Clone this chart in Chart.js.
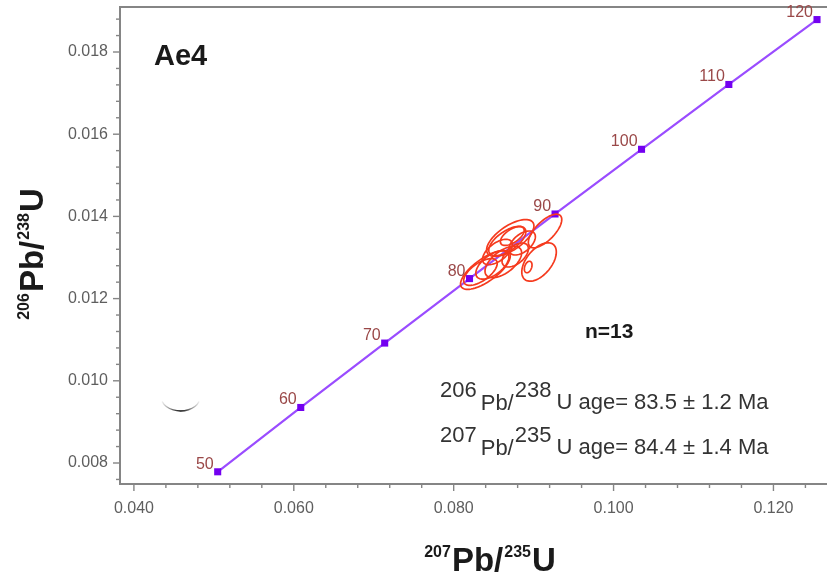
<!DOCTYPE html>
<html>
<head>
<meta charset="utf-8">
<script src="https://cdn.jsdelivr.net/npm/chart.js@4.4.0/dist/chart.umd.min.js"></script>
<style>
html,body{margin:0;padding:0;background:#fff;overflow:hidden;}
#wrap{width:827px;height:580px;overflow:hidden;}
</style>
</head>
<body>
<div id="wrap"><canvas id="conc" width="840" height="580"></canvas></div>
<script>
// concordia reference points (Ma) and their ratios
var ages    = [50, 60, 70, 80, 90, 100, 110, 120];
var conc207 = [0.05048, 0.06087, 0.07137, 0.08198, 0.09268, 0.10350, 0.11442, 0.12545];
var conc206 = [0.007786, 0.009351, 0.010918, 0.012487, 0.014059, 0.015633, 0.017210, 0.018789];

// zircon spots: ratios, 2s half-widths and error correlation
var spot207 = [0.09143, 0.09068, 0.08932, 0.08708, 0.08671, 0.08733, 0.08857, 0.08621, 0.08397, 0.08335, 0.08484, 0.08547, 0.08770];
var spot206 = [0.013645, 0.012891, 0.012769, 0.013475, 0.013402, 0.013523, 0.013353, 0.012891, 0.012696, 0.012647, 0.012818, 0.013134, 0.013061];
var err207  = [0.00209, 0.00216, 0.00048, 0.00296, 0.00232, 0.00149, 0.00165, 0.00229, 0.00311, 0.00210, 0.00207, 0.00186, 0.00165];
var err206  = [0.000409, 0.000467, 0.000140, 0.000448, 0.000355, 0.000229, 0.000292, 0.000382, 0.000472, 0.000326, 0.000345, 0.000309, 0.000292];
var rho     = [0.68, 0.52, 0.34, 0.65, 0.63, 0.60, 0.52, 0.58, 0.72, 0.64, 0.58, 0.58, 0.52];

var xTicks = [0.040, 0.060, 0.080, 0.100, 0.120];
var yTicks = [0.008, 0.010, 0.012, 0.014, 0.016, 0.018];

var sampleName = 'Ae4';
var nLabel = 'n=13';
var ageLines = [
  ['206', '238', 'U age= 83.5 \u00b1 1.2 Ma'],
  ['207', '235', 'U age= 84.4 \u00b1 1.4 Ma']
];

var FONT = '"Liberation Sans", Arial, sans-serif';
var axisGray = '#858585';

function runs(ctx, x, y, parts) {
  parts.forEach(function(p){
    ctx.font = p[1];
    ctx.fillText(p[0], x, y + (p[2] || 0));
    x += ctx.measureText(p[0]).width + (p[3] || 0);
  });
}
function runsWidth(ctx, parts) {
  var w = 0;
  parts.forEach(function(p){ ctx.font = p[1]; w += ctx.measureText(p[0]).width + (p[3] || 0); });
  return w;
}

var ellipses = {
  id: 'ellipses',
  afterDatasetsDraw: function(chart){
    var ctx = chart.ctx, xs = chart.scales.x, ys = chart.scales.y, ca = chart.chartArea;
    ctx.save();
    ctx.beginPath(); ctx.rect(ca.left, ca.top, ca.right - ca.left, ca.bottom - ca.top); ctx.clip();
    ctx.strokeStyle = '#f53a1e';
    ctx.lineWidth = 1.7;
    for (var i = 0; i < spot207.length; i++) {
      var s = Math.sqrt(1 - rho[i] * rho[i]);
      ctx.beginPath();
      for (var k = 0; k <= 72; k++) {
        var t = k / 72 * Math.PI * 2;
        var vx = spot207[i] + err207[i] * Math.cos(t);
        var vy = spot206[i] + err206[i] * (rho[i] * Math.cos(t) + s * Math.sin(t));
        var px = xs.getPixelForValue(vx), py = ys.getPixelForValue(vy);
        if (k === 0) ctx.moveTo(px, py); else ctx.lineTo(px, py);
      }
      ctx.closePath();
      ctx.stroke();
    }
    // stray arc left on the plot
    var cx = xs.getPixelForValue(0.04584), cy = ys.getPixelForValue(0.009630);
    var g = ctx.createLinearGradient(cx - 20, 0, cx + 20, 0);
    g.addColorStop(0, 'rgba(0,0,0,0)');
    g.addColorStop(0.5, 'rgba(0,0,0,0.95)');
    g.addColorStop(1, 'rgba(0,0,0,0)');
    ctx.strokeStyle = g;
    ctx.lineWidth = 1.4;
    ctx.beginPath();
    ctx.ellipse(cx, cy, 20, 15, 0, 0.12 * Math.PI, 0.88 * Math.PI);
    ctx.stroke();
    ctx.restore();
  }
};

var decorations = {
  id: 'decorations',
  afterDraw: function(chart){
    var ctx = chart.ctx, xs = chart.scales.x, ys = chart.scales.y, ca = chart.chartArea;
    ctx.save();
    // frame top
    ctx.strokeStyle = axisGray; ctx.lineWidth = 2;
    ctx.beginPath(); ctx.moveTo(ca.left - 1, ca.top); ctx.lineTo(ca.right, ca.top); ctx.stroke();
    // tick marks, majors longer
    ctx.lineWidth = 1.4;
    var k, p, len;
    for (k = Math.ceil(xs.min / 0.004); k * 0.004 <= xs.max; k++) {
      p = xs.getPixelForValue(k * 0.004); len = (k % 5 === 0) ? 7 : 4;
      ctx.beginPath(); ctx.moveTo(p, ca.bottom); ctx.lineTo(p, ca.bottom + len); ctx.stroke();
    }
    for (k = Math.ceil(ys.min / 0.0004); k * 0.0004 <= ys.max; k++) {
      p = ys.getPixelForValue(k * 0.0004); len = (k % 5 === 0) ? 7 : 4;
      ctx.beginPath(); ctx.moveTo(ca.left, p); ctx.lineTo(ca.left - len, p); ctx.stroke();
    }
    // age labels on the concordia
    ctx.fillStyle = '#9a4848';
    ctx.font = '16px ' + FONT;
    ctx.textAlign = 'right'; ctx.textBaseline = 'alphabetic';
    for (var i = 0; i < ages.length; i++) {
      ctx.fillText(String(ages[i]), xs.getPixelForValue(conc207[i]) - 4, ys.getPixelForValue(conc206[i]) - 3);
    }
    ctx.textAlign = 'left';
    ctx.fillStyle = '#1a1a1a';
    ctx.font = 'bold 29px ' + FONT;
    ctx.fillText(sampleName, 154, 65);
    ctx.font = 'bold 21px ' + FONT;
    ctx.fillText(nLabel, 585, 338);
    // age results
    ctx.fillStyle = '#333';
    var f = '22px ' + FONT;
    ageLines.forEach(function(l, j){
      runs(ctx, 440, 409 + j * 45, [[l[0], f, -12, 4], ['Pb/', f, 1, 1], [l[1], f, -12, 5], [l[2], f, 0]]);
    });
    // axis titles
    ctx.fillStyle = '#1a1a1a';
    var big = 'bold 33px ' + FONT, sm = 'bold 16px ' + FONT;
    var xt = [['207', sm, -14, 1], ['Pb/', big, 0, 1], ['235', sm, -14, 1], ['U', big, 0]];
    var w = runsWidth(ctx, xt);
    runs(ctx, 490 - w / 2, 571, xt);
    var yt = [['206', sm, -14, 1], ['Pb/', big, 0, 1], ['238', sm, -14, 1], ['U', big, 0]];
    w = runsWidth(ctx, yt);
    ctx.translate(43, 254);
    ctx.rotate(-Math.PI / 2);
    runs(ctx, -w / 2, 0, yt);
    ctx.restore();
  }
};

function noPad(s) { s.paddingTop = 0; s.paddingBottom = 0; s.paddingLeft = 0; s.paddingRight = 0; }

var points = conc207.map(function(v, i){ return { x: v, y: conc206[i] }; });

new Chart(document.getElementById('conc'), {
  type: 'scatter',
  data: {
    datasets: [{
      data: points,
      showLine: true,
      borderColor: '#9a4cff',
      borderWidth: 2.2,
      pointStyle: 'rect',
      pointRadius: 5,
      pointBackgroundColor: '#7300f0',
      pointBorderColor: '#7300f0',
      pointBorderWidth: 0
    }]
  },
  options: {
    responsive: false,
    animation: false,
    layout: { padding: { top: 7, right: 0, left: 0, bottom: 0 } },
    plugins: { legend: { display: false }, tooltip: { enabled: false } },
    scales: {
      x: {
        type: 'linear', min: 0.03826, max: 0.1277,
        afterBuildTicks: function(s){ s.ticks = xTicks.map(function(v){ return { value: v }; }); },
        afterFit: function(s){ s.height = 96; noPad(s); },
        grid: { display: false, drawTicks: true, tickLength: 8 },
        border: { display: true, color: axisGray, width: 2 },
        ticks: { padding: 7, color: '#5e5e5e', font: { family: FONT, size: 16 }, maxRotation: 0,
                 callback: function(v){ return Number(v).toFixed(3); } }
      },
      y: {
        type: 'linear', min: 0.007489, max: 0.019095,
        afterBuildTicks: function(s){ s.ticks = yTicks.map(function(v){ return { value: v }; }); },
        afterFit: function(s){ s.width = 120; noPad(s); },
        grid: { display: false, drawTicks: true, tickLength: 8 },
        border: { display: true, color: axisGray, width: 2 },
        ticks: { padding: 4, color: '#5e5e5e', font: { family: FONT, size: 16 },
                 callback: function(v){ return Number(v).toFixed(3); } }
      }
    }
  },
  plugins: [ellipses, decorations]
});
</script>
</body>
</html>
